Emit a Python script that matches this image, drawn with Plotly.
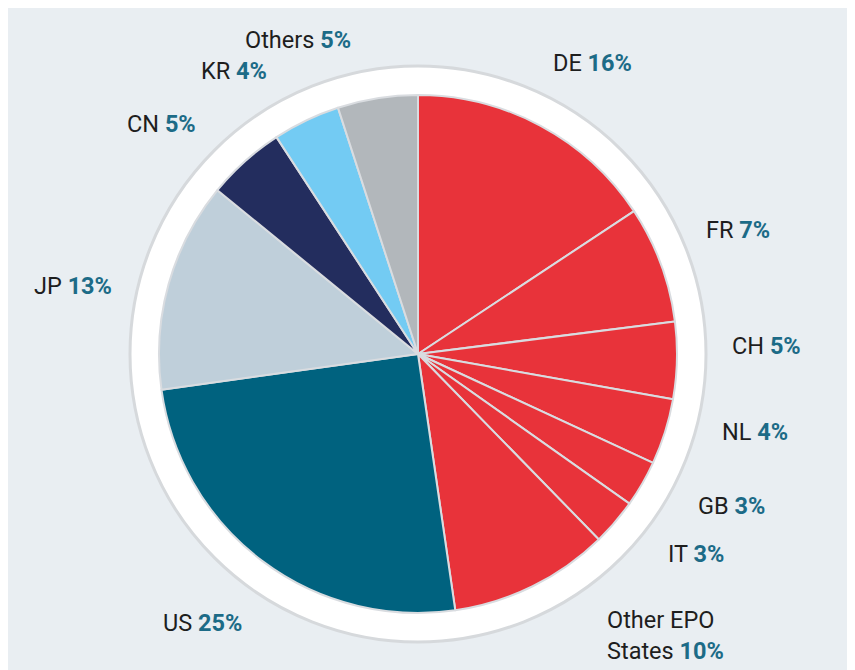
import math
import plotly.graph_objects as go

# ---- data ----
countries = ["DE", "FR", "CH", "NL", "GB", "IT", "Other EPO<br>States",
             "US", "JP", "CN", "KR", "Others"]
shares = [15.7, 7.3, 4.8, 4.1, 2.9, 2.9, 10.0, 25.1, 13.1, 4.9, 4.2, 5.0]
colors = ["#e8333a"] * 7 + ["#00627f", "#bfcfda", "#232d5e", "#73cbf3", "#b2b7bb"]

# ---- layout constants ----
W, H = 847, 662
CX, CY = 410, 346          # pie centre in figure pixels (from top-left)
R_PIE, R_RING, R_LABEL = 259, 288, 312
LABEL_ANGLE_OFFSET = -3.0  # degrees, labels sit slightly counter-clockwise
FONT_SIZE = 23.5
NAME_COLOR = "#1e1e1e"
PCT_COLOR = "#1c6b87"


def dom(r):
    cyb = H - CY
    return dict(x=[(CX - r) / W, (CX + r) / W], y=[(cyb - r) / H, (cyb + r) / H])


fig = go.Figure()

# white ring behind the pie
fig.add_trace(go.Pie(
    values=[1], labels=["ring"], domain=dom(R_RING), sort=False,
    marker=dict(colors=["#ffffff"], line=dict(color="#d6d9dc", width=3)),
    textinfo="none", hoverinfo="skip", showlegend=False,
))

# the data pie
fig.add_trace(go.Pie(
    values=shares, labels=countries, domain=dom(R_PIE), sort=False,
    direction="clockwise", rotation=0,
    marker=dict(colors=colors, line=dict(color="#d9dce0", width=2)),
    textinfo="none", hoverinfo="label+percent", showlegend=False,
))

# outside labels placed near each slice's mid-angle (derived from the data)
total = sum(shares)
annotations = []
cum = 0.0
for name, v in zip(countries, shares):
    mid = (cum + v / 2) / total * 2 * math.pi + math.radians(LABEL_ANGLE_OFFSET)
    cum += v
    s, c = math.sin(mid), math.cos(mid)
    lines = name.count("<br>") + 1
    text_h = lines * FONT_SIZE * 1.3 + 5
    px, py = CX + R_LABEL * s, CY - R_LABEL * c
    xanchor = "left" if s > 0 else "right"
    if abs(c) < 0.4:
        yanchor = "middle"
    elif c > 0:
        yanchor = "bottom"
        py += 7            # compensate the descender space under the text
    else:
        yanchor = "top"
        py -= 6            # compensate the line-height space above the text
        if py > H - text_h:  # keep inside the figure: slide along the circle
            py = H - text_h
            dy = py - CY
            px = CX + math.copysign(math.sqrt(max(R_LABEL ** 2 - dy ** 2, 0)), s)
    pct = round(v / total * 100)
    annotations.append(dict(
        x=px / W, y=1 - py / H, xref="paper", yref="paper",
        xanchor=xanchor, yanchor=yanchor, align="left", showarrow=False,
        text=f"{name} <b><span style='color:{PCT_COLOR}'>{pct}%</span></b>",
        font=dict(family="Roboto", size=FONT_SIZE, color=NAME_COLOR),
    ))

fig.update_layout(
    width=W, height=H,
    margin=dict(l=0, r=0, t=0, b=0),
    paper_bgcolor="#e9eef2",
    font=dict(family="Roboto"),
    annotations=annotations,
)

fig.write_html("out.html")
